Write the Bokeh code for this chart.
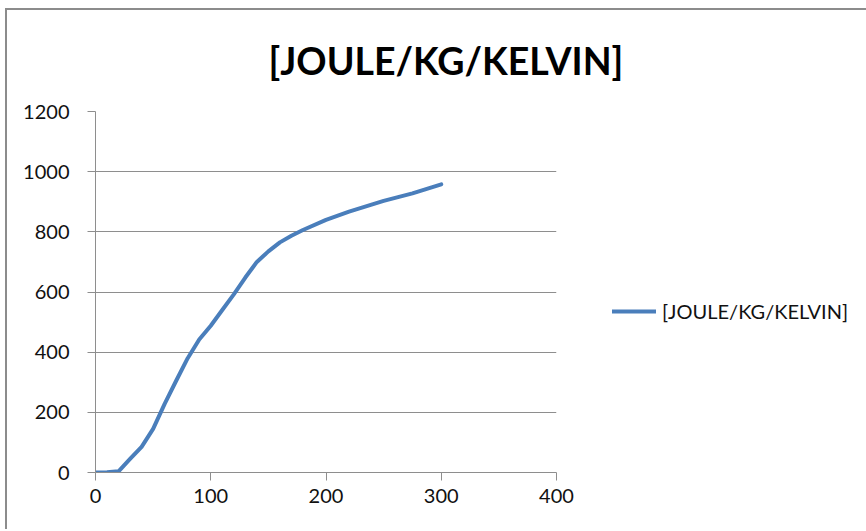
from bokeh.plotting import figure
from bokeh.models import Range1d, FixedTicker, Legend, LegendItem
from bokeh.embed import file_html
from bokeh.resources import INLINE

# Temperature [K] and specific heat [J/kg/K]
temperature = [0, 10, 20, 30, 40, 50, 60, 70, 80, 90, 100, 110, 120, 130,
               140, 150, 160, 170, 180, 200, 220, 250, 275, 300]
specific_heat = [0, 1, 4, 45, 85, 145, 228, 305, 380, 442, 488, 540, 592, 648,
                 700, 735, 765, 787, 806, 840, 867, 903, 928, 958]

x_ticks = [0, 100, 200, 300, 400]
y_ticks = [0, 200, 400, 600, 800, 1000, 1200]

title_text = "[JOULE/KG/KELVIN]"
series_name = "[JOULE/KG/KELVIN]"

LINE_COLOR = "#4A7EBB"
GRID_COLOR = "#8E8E8E"
FONT = "Lato"

p = figure(frame_width=461, frame_height=361, output_backend="svg",
           toolbar_location=None,
           x_range=Range1d(0, 400), y_range=Range1d(0, 1200),
           min_border_left=88, min_border_right=0,
           min_border_top=101, min_border_bottom=59)
p.outline_line_color = None
p.background_fill_color = "white"
p.border_fill_color = "white"
# place the chart on the page and draw its border along the top and left
p.styles = {"position": "absolute", "left": "7px", "top": "10px",
            "box-shadow": "-2px -2px 0 0 #8C8C8C"}

p.title.text = title_text
p.title.text_font = FONT
p.title.text_font_style = "bold"
p.title.text_font_size = "37.5px"
p.title.text_color = "#000000"
p.title.align = "left"
p.title.offset = 173
p.title.vertical_align = "top"
p.title.standoff = 54

# axes
for ax in (p.xaxis[0], p.yaxis[0]):
    ax.axis_line_color = GRID_COLOR
    ax.major_tick_line_color = GRID_COLOR
    ax.major_tick_out = 8
    ax.major_tick_in = 0
    ax.minor_tick_line_color = None
    ax.major_label_text_font = FONT
    ax.major_label_text_font_size = "20px"
    ax.major_label_text_color = "#111111"
p.xaxis[0].ticker = FixedTicker(ticks=x_ticks)
p.yaxis[0].ticker = FixedTicker(ticks=y_ticks)
p.xaxis[0].major_label_standoff = 8
p.yaxis[0].major_label_standoff = 18

p.xgrid.grid_line_color = None
p.ygrid.grid_line_color = GRID_COLOR
p.ygrid.ticker = FixedTicker(ticks=y_ticks)

line = p.line(temperature, specific_heat, line_color=LINE_COLOR, line_width=4,
              line_join="round", line_cap="round")

legend = Legend(items=[LegendItem(label=series_name, renderers=[line])],
                location=(56, 149), border_line_color=None,
                background_fill_alpha=0,
                label_text_font=FONT, label_text_font_size="20px",
                label_text_color="#111111", glyph_width=44,
                label_standoff=6, padding=0, margin=0)
p.add_layout(legend, "right")

open("out.html", "w").write(file_html(p, INLINE))
